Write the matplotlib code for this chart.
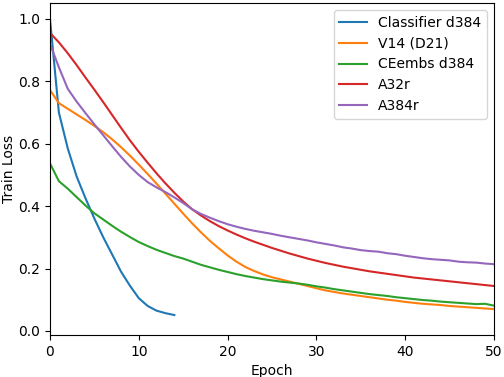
import numpy as np
import matplotlib
matplotlib.use('Agg')
import matplotlib.pyplot as plt

# train loss per epoch
classifier_d384 = [1.0, 0.70, 0.585, 0.495, 0.425, 0.36, 0.30, 0.245, 0.19, 0.145,
                   0.105, 0.08, 0.065, 0.057, 0.051]

v14_d21 = [0.772, 0.73, 0.712, 0.694, 0.676, 0.657, 0.637, 0.614, 0.589, 0.562,
           0.533, 0.503, 0.472, 0.44, 0.408, 0.376, 0.345, 0.316, 0.289, 0.265,
           0.242, 0.222, 0.205, 0.192, 0.181, 0.172, 0.165, 0.158, 0.151, 0.144,
           0.137, 0.13, 0.125, 0.12, 0.116, 0.112, 0.108, 0.104, 0.1, 0.097,
           0.093, 0.09, 0.087, 0.085, 0.083, 0.08, 0.078, 0.076, 0.074, 0.072,
           0.07]

ceembs_d384 = [0.537, 0.48, 0.456, 0.429, 0.402, 0.377, 0.357, 0.337, 0.318, 0.301,
               0.285, 0.272, 0.26, 0.25, 0.24, 0.232, 0.222, 0.212, 0.204, 0.196,
               0.189, 0.182, 0.176, 0.171, 0.166, 0.162, 0.158, 0.155, 0.152, 0.148,
               0.143, 0.139, 0.134, 0.13, 0.126, 0.122, 0.118, 0.115, 0.112, 0.108,
               0.105, 0.102, 0.099, 0.097, 0.094, 0.092, 0.09, 0.088, 0.086, 0.087,
               0.081]

a32r = [0.955, 0.925, 0.89, 0.852, 0.812, 0.773, 0.733, 0.692, 0.651, 0.611,
        0.574, 0.539, 0.505, 0.473, 0.443, 0.415, 0.39, 0.37, 0.352, 0.336,
        0.322, 0.309, 0.297, 0.286, 0.276, 0.266, 0.257, 0.248, 0.24, 0.232,
        0.225, 0.218, 0.212, 0.206, 0.201, 0.196, 0.191, 0.187, 0.183, 0.179,
        0.175, 0.171, 0.168, 0.165, 0.162, 0.159, 0.156, 0.153, 0.15, 0.147,
        0.144]

a384r = [0.92, 0.845, 0.776, 0.735, 0.698, 0.662, 0.627, 0.592, 0.558, 0.527,
         0.50, 0.477, 0.46, 0.445, 0.428, 0.41, 0.39, 0.375, 0.363, 0.352,
         0.342, 0.334, 0.327, 0.321, 0.316, 0.311, 0.305, 0.30, 0.295, 0.29,
         0.284, 0.279, 0.274, 0.268, 0.264, 0.259, 0.256, 0.254, 0.249, 0.246,
         0.241, 0.237, 0.233, 0.23, 0.228, 0.226, 0.222, 0.22, 0.219, 0.216,
         0.214]

series = [("Classifier d384", classifier_d384),
          ("V14 (D21)", v14_d21),
          ("CEembs d384", ceembs_d384),
          ("A32r", a32r),
          ("A384r", a384r)]

fig, ax = plt.subplots(figsize=(5.04, 3.77), dpi=100)
fig.subplots_adjust(left=50/504, right=494/504, top=1-3/377, bottom=1-335/377)

for name, vals in series:
    ax.plot(np.arange(len(vals)), vals, label=name)

ax.set_xlim(0, 50)
ax.set_ylim(-0.013, 1.051)
ax.set_xlabel('Epoch')
ax.set_ylabel('Train Loss', labelpad=1.5)
ax.legend(loc='upper right')

fig.savefig('out.png', dpi=100)
